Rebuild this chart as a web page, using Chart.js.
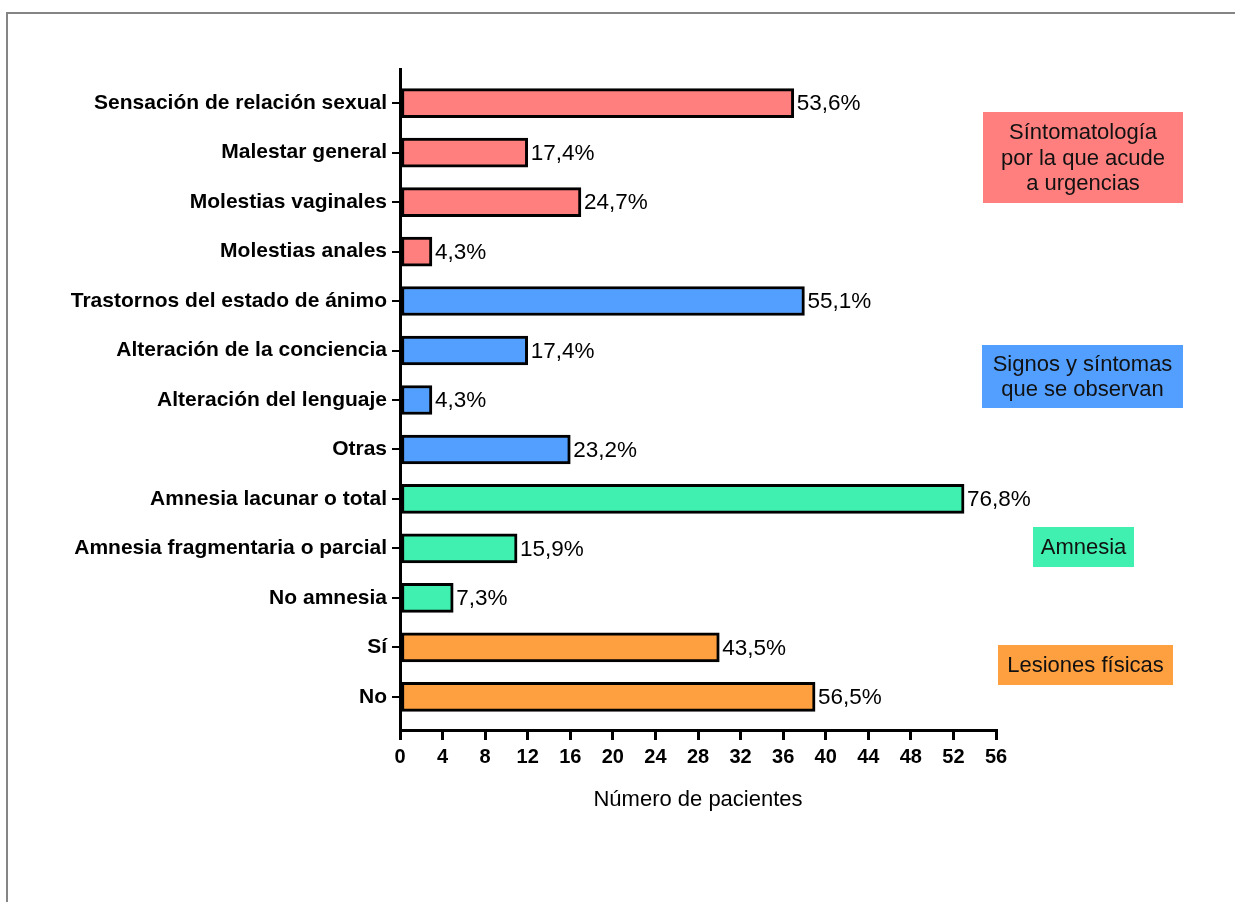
<!DOCTYPE html>
<html>
<head>
<meta charset="utf-8">
<script src="https://cdn.jsdelivr.net/npm/chart.js@4.4.1/dist/chart.umd.min.js"></script>
<style>
html, body { margin: 0; padding: 0; background: #fff; }
#wrap { position: relative; width: 1235px; height: 902px; }
#frame { position: absolute; left: 6px; top: 12px; right: 0; bottom: 0; border-top: 2px solid #858585; border-left: 2px solid #858585; pointer-events: none; }
</style>
</head>
<body>
<div id="wrap">
  <canvas id="myChart" width="1235" height="902"></canvas>
  <div id="frame"></div>
</div>
<script>
var categorias = ["Sensación de relación sexual", "Malestar general", "Molestias vaginales", "Molestias anales",
                  "Trastornos del estado de ánimo", "Alteración de la conciencia", "Alteración del lenguaje", "Otras",
                  "Amnesia lacunar o total", "Amnesia fragmentaria o parcial", "No amnesia",
                  "Sí", "No"];
var pacientes = [37, 12, 17, 3, 38, 12, 3, 16, 53, 11, 5, 30, 39];
var porcentajes = ["53,6%", "17,4%", "24,7%", "4,3%", "55,1%", "17,4%", "4,3%", "23,2%", "76,8%", "15,9%", "7,3%", "43,5%", "56,5%"];
var grupoDeCategoria = [0, 0, 0, 0, 1, 1, 1, 1, 2, 2, 2, 3, 3];
var grupos = [["Síntomatología", "por la que acude", "a urgencias"], ["Signos y síntomas", "que se observan"], ["Amnesia"], ["Lesiones físicas"]];
var colores = ["#FF7F7F", "#529FFF", "#40F0B0", "#FFA040"];
var xMax = 56, xPaso = 4;

var fuente = "'Liberation Sans', Arial, Helvetica, sans-serif";
Chart.defaults.font.family = fuente;
Chart.defaults.color = "#000";

// etiquetas de porcentaje al final de cada barra
var etiquetas = {
    id: "etiquetas",
    afterDatasetsDraw: function(chart) {
        var ctx = chart.ctx;
        var meta = chart.getDatasetMeta(0);
        ctx.save();
        ctx.font = "22.5px " + fuente;
        ctx.fillStyle = "#000";
        ctx.textAlign = "left";
        ctx.textBaseline = "middle";
        meta.data.forEach(function(bar, i) {
            ctx.fillText(porcentajes[i], bar.x + 3, bar.y + 1);
        });
        ctx.restore();
    }
};

// cajas de grupo a la derecha
var cajas = {
    id: "cajas",
    afterDraw: function(chart) {
        var ctx = chart.ctx;
        var rects = [[983, 112, 200, 91], [982, 345, 201, 63], [1033, 527, 101, 40], [998, 645, 175, 40]];
        ctx.save();
        ctx.font = "22px " + fuente;
        ctx.textAlign = "center";
        ctx.textBaseline = "middle";
        rects.forEach(function(r, g) {
            ctx.fillStyle = colores[g];
            ctx.fillRect(r[0], r[1], r[2], r[3]);
            ctx.fillStyle = "#111";
            var lineas = grupos[g];
            var lh = 25.5;
            var cy = r[1] + r[3] / 2 + 1;
            lineas.forEach(function(t, k) {
                ctx.fillText(t, r[0] + r[2] / 2, cy + (k - (lineas.length - 1) / 2) * lh);
            });
        });
        ctx.restore();
    }
};

var ctx = document.getElementById("myChart");
var myChart = new Chart(ctx, {
    type: "bar",
    data: {
        datasets: [{
            data: pacientes.map(function(v, i) { return { x: v, y: i }; }),
            backgroundColor: grupoDeCategoria.map(function(g) { return colores[g]; }),
            borderColor: "#000",
            borderWidth: 3,
            borderSkipped: false,
            barThickness: 29
        }]
    },
    options: {
        indexAxis: "y",
        responsive: false,
        animation: false,
        layout: { padding: { top: 69, right: 239, left: 0, bottom: 0 } },
        plugins: { legend: { display: false }, tooltip: { enabled: false } },
        scales: {
            y: {
                type: "linear",
                reverse: true,
                offset: false,
                min: -0.69,
                max: 12.67,
                afterBuildTicks: function(scale) {
                    scale.ticks = categorias.map(function(c, i) { return { value: i }; });
                },
                afterFit: function(scale) { scale.width = 400; },
                ticks: {
                    autoSkip: false,
                    padding: 5,
                    font: { size: 21, weight: "bold" },
                    callback: function(v) { return categorias[v]; }
                },
                grid: { offset: false, drawOnChartArea: false, drawTicks: true, tickLength: 8, color: "#000", lineWidth: 2 },
                border: { display: true, color: "#000", width: 3 }
            },
            x: {
                type: "linear",
                min: 0,
                max: xMax,
                afterFit: function(scale) { scale.height = 172; },
                ticks: { stepSize: xPaso, padding: 5, font: { size: 20, weight: "bold" } },
                grid: { drawOnChartArea: false, drawTicks: true, tickLength: 10, color: "#000", lineWidth: 3 },
                border: { display: true, color: "#000", width: 3 },
                title: { display: true, text: "Número de pacientes", font: { size: 22 }, padding: { top: 0, bottom: 89 } }
            }
        }
    },
    plugins: [etiquetas, cajas]
});
</script>
</body>
</html>
